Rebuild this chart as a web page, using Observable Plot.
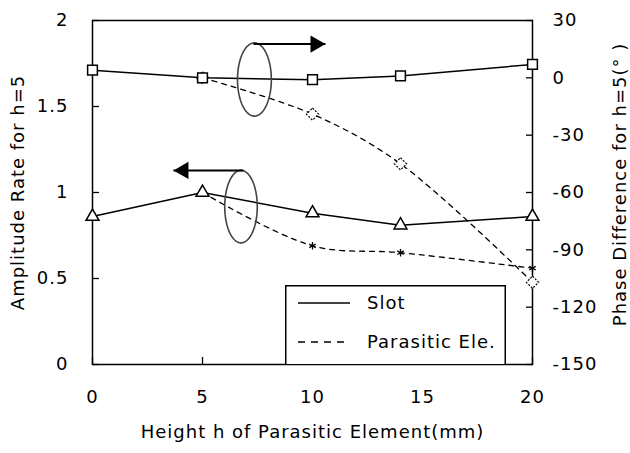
<!DOCTYPE html>
<html><head><meta charset="utf-8">
<script src="https://cdn.jsdelivr.net/npm/d3@7"></script>
<script src="https://cdn.jsdelivr.net/npm/@observablehq/plot@0.6"></script>
<style>
body{margin:0;background:#fff;}
#wrap{position:relative;width:630px;height:453px;font-family:"DejaVu Sans",sans-serif;}
#legend{position:absolute;left:285px;top:285px;width:221px;height:79px;}
</style></head><body><div id="wrap"></div>
<script>
// ---- data ----
const heights = [0, 5, 10, 14, 20];
const slotAmplitude = [0.86, 1.0, 0.88, 0.81, 0.86];
const slotPhase = [4, 0, -1, 1, 7];
const paraHeights = [5, 10, 14, 20];
const paraAmplitude = [1.0, 0.69, 0.65, 0.56];
const paraPhase = [0, -19, -45, -107];
const seriesNames = ["Slot", "Parasitic Ele."];
const xTicks = [0, 5, 10, 15, 20];
const xTickLabels = ["0", "5", "10", "15", "20"];
const ampTicks = [0, 0.5, 1, 1.5, 2];
const ampTickLabels = ["0", "0.5", "1", "1.5", "2"];
const phaseTicks = [30, 0, -30, -60, -90, -120, -150];
const phaseTickLabels = ["30", "0", "-30", "-60", "-90", "-120", "-150"];
const xTitle = "Height h of Parasitic Element(mm)";
const yLeftTitle = "Amplitude Rate for h=5";
const yRightTitle = "Phase Difference for h=5(° )";
// annotation groups (data units: x in mm, y in amplitude units)
const ellipses = [
  {id: "phase", cx: 7.36, cy: 1.657, rx: 0.77, ry: 0.213},
  {id: "amp", cx: 6.75, cy: 0.918, rx: 0.74, ry: 0.211}
];
const arrowsRight = [{x1: 7.32, x2: 10.59, y: 1.863}];
const arrowsLeft = [{x1: 6.86, x2: 3.68, y: 1.128}];

// ---- helpers ----
const phaseDomain = [-150, 30];
const phaseToY = p => (p - phaseDomain[0]) / (phaseDomain[1] - phaseDomain[0]) * 2;
const phaseTickPos = phaseTicks.map(phaseToY);
const phaseLabelMap = new Map(phaseTickPos.map((v, i) => [v, phaseTickLabels[i]]));

const slotAmpData = heights.map((h, i) => ({h, v: slotAmplitude[i]}));
const slotPhaseData = heights.map((h, i) => ({h, v: phaseToY(slotPhase[i])}));
const paraAmpData = paraHeights.map((h, i) => ({h, v: paraAmplitude[i]}));
const paraPhaseData = paraHeights.map((h, i) => ({h, v: phaseToY(paraPhase[i])}));
const ellipsePts = ellipses.flatMap(e => d3.range(0, 360, 6).map(a => ({
  id: e.id,
  x: e.cx + e.rx * Math.cos(a * Math.PI / 180),
  y: e.cy + e.ry * Math.sin(a * Math.PI / 180)
})));

const FONT = "DejaVu Sans, sans-serif";
const chart = Plot.plot({
  width: 630, height: 453,
  marginLeft: 92, marginRight: 98, marginTop: 20, marginBottom: 89,
  x: {domain: [0, 20]},
  y: {domain: [0, 2]},
  style: {fontFamily: FONT, fontSize: "18px", letterSpacing: "1px", color: "black", background: "white", overflow: "visible"},
  marks: [
    Plot.axisX({ticks: xTicks, tickSize: 7, dy: -7, tickFormat: () => "", label: null, strokeWidth: 1.3}),
    Plot.axisX({ticks: xTicks, tickSize: 0, tickPadding: 26, tickFormat: d => xTickLabels[xTicks.indexOf(d)], label: null}),
    Plot.axisY({ticks: ampTicks, tickSize: 7, dx: 7, tickFormat: () => "", label: null, strokeWidth: 1.3}),
    Plot.axisY({ticks: ampTicks, tickSize: 0, tickPadding: 24, tickFormat: d => ampTickLabels[ampTicks.indexOf(d)], label: null}),
    Plot.axisY({anchor: "right", ticks: phaseTickPos, tickSize: 7, dx: -7, tickFormat: () => "", label: null, strokeWidth: 1.3}),
    Plot.axisY({anchor: "right", ticks: phaseTickPos, tickSize: 0, tickPadding: 20, tickFormat: d => phaseLabelMap.get(d), label: null}),
    Plot.frame({stroke: "black", strokeWidth: 1.5}),
    Plot.line(slotAmpData, {x: "h", y: "v", stroke: "black", strokeWidth: 1.5}),
    Plot.line(slotPhaseData, {x: "h", y: "v", stroke: "black", strokeWidth: 1.5}),
    Plot.line(paraAmpData, {x: "h", y: "v", stroke: "black", strokeWidth: 1.3, strokeDasharray: "5,5", curve: "catmull-rom"}),
    Plot.line(paraPhaseData, {x: "h", y: "v", stroke: "black", strokeWidth: 1.3, strokeDasharray: "5,5", curve: "catmull-rom"}),
    Plot.dot(paraPhaseData, {x: "h", y: "v", symbol: "diamond2", r: 5.5, fill: "white", stroke: "black", strokeWidth: 1.2, strokeDasharray: "2,1.5"}),
    Plot.dot(paraAmpData, {x: "h", y: "v", symbol: "asterisk", r: 3.5, stroke: "black", strokeWidth: 1.3}),
    Plot.dot(slotPhaseData, {x: "h", y: "v", symbol: "square", r: 5.5, fill: "white", stroke: "black", strokeWidth: 1.5}),
    Plot.dot(slotAmpData, {x: "h", y: "v", symbol: "triangle", r: 4.8, fill: "white", stroke: "black", strokeWidth: 1.5}),
    Plot.line(ellipsePts, {x: "x", y: "y", z: "id", stroke: "#444", strokeWidth: 1.6, curve: "linear-closed"}),
    Plot.link(arrowsRight, {x1: "x1", x2: "x2", y1: "y", y2: "y", stroke: "black", strokeWidth: 2}),
    Plot.link(arrowsLeft, {x1: "x1", x2: "x2", y1: "y", y2: "y", stroke: "black", strokeWidth: 2}),
    Plot.dot(arrowsRight, {x: "x2", y: "y", symbol: "triangle", r: 6.4, fill: "black", stroke: "none", rotate: 90, dx: -10}),
    Plot.dot(arrowsLeft, {x: "x2", y: "y", symbol: "triangle", r: 6.4, fill: "black", stroke: "none", rotate: -90, dx: 10}),
    Plot.text([yLeftTitle], {frameAnchor: "left", dx: -74, rotate: -90, textAnchor: "middle", lineAnchor: "middle", fill: "black"}),
    Plot.text([yRightTitle], {frameAnchor: "right", dx: 88, dy: -8, rotate: -90, textAnchor: "middle", lineAnchor: "middle", fill: "black"}),
    Plot.text([xTitle], {frameAnchor: "bottom", dy: 73, fill: "black"})
  ]
});
const wrap = document.getElementById("wrap");
wrap.appendChild(chart);

// legend overlay
const leg = document.createElement("div");
leg.id = "legend";
const svg = d3.create("svg").attr("width", 221).attr("height", 79)
  .style("font-family", FONT).style("font-size", "18px").style("letter-spacing", "1px");
svg.append("rect").attr("x", 0.75).attr("y", 0.75).attr("width", 219.5).attr("height", 80)
  .attr("fill", "white").attr("stroke", "black").attr("stroke-width", 1.5);
const rowsY = [18, 57];
seriesNames.forEach((name, i) => {
  svg.append("line").attr("x1", 13).attr("x2", 65).attr("y1", rowsY[i]).attr("y2", rowsY[i])
    .attr("stroke", "black").attr("stroke-width", i ? 1.3 : 1.5).attr("stroke-dasharray", i ? "7,6" : null);
  svg.append("text").attr("x", 82).attr("y", rowsY[i]).attr("dy", "0.35em").text(name);
});
leg.appendChild(svg.node());
wrap.appendChild(leg);
</script></body></html>
